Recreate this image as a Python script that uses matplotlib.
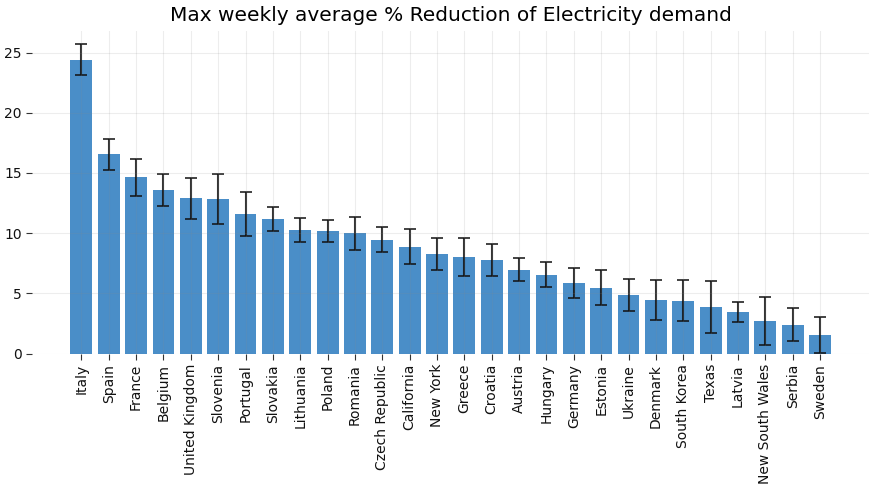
import matplotlib
matplotlib.use("Agg")
import matplotlib.pyplot as plt

regions = ["Italy", "Spain", "France", "Belgium", "United Kingdom", "Slovenia",
           "Portugal", "Slovakia", "Lithuania", "Poland", "Romania", "Czech Republic",
           "California", "New York", "Greece", "Croatia", "Austria", "Hungary",
           "Germany", "Estonia", "Ukraine", "Denmark", "South Korea", "Texas",
           "Latvia", "New South Wales", "Serbia", "Sweden"]
reduction = [24.42, 16.56, 14.65, 13.58, 12.91, 12.83, 11.59, 11.18, 10.26, 10.18,
             10.0, 9.44, 8.86, 8.28, 8.03, 7.78, 6.95, 6.54, 5.88, 5.46, 4.88,
             4.47, 4.39, 3.89, 3.48, 2.73, 2.40, 1.57]
error = [1.3, 1.3, 1.55, 1.3, 1.7, 2.05, 1.8, 1.0, 1.0, 0.95, 1.37, 1.04, 1.45,
         1.33, 1.6, 1.33, 0.95, 1.03, 1.24, 1.45, 1.33, 1.65, 1.7, 2.15, 0.83,
         2.0, 1.37, 1.5]

fig, ax = plt.subplots(figsize=(8.76, 4.91), dpi=100)
ax.bar(range(len(regions)), reduction, width=0.8, color="#1d72bb", alpha=0.8,
       yerr=error, capsize=4,
       error_kw=dict(ecolor="#111111", elinewidth=1.5, capthick=1.3, alpha=0.85))

ax.set_xticks(range(len(regions)))
ax.set_xticklabels(regions, rotation=90, fontsize=10)
ax.tick_params(axis="y", labelsize=10)
ax.tick_params(colors="#333333", labelcolor="#111111", length=4)
ax.set_ylim(0, 26.8)
ax.set_title("Max weekly average % Reduction of Electricity demand", fontsize=14.5, pad=7)

for s in ax.spines.values():
    s.set_visible(False)
ax.set_axisbelow(False)
ax.grid(True, color="#888888", alpha=0.15, linewidth=0.8)

plt.subplots_adjust(left=0.037, right=0.992, top=0.937, bottom=0.28)
plt.savefig("out.png")
